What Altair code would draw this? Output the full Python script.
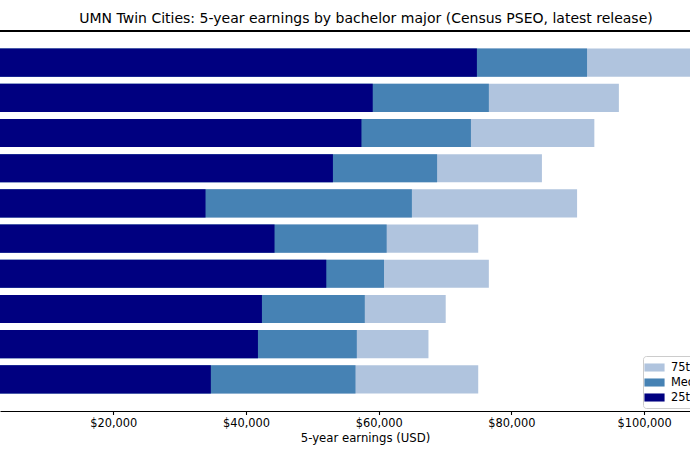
import altair as alt
import pandas as pd

# Majors (y-axis labels are cropped out of the reference view)
majors = ["Major 1", "Major 2", "Major 3", "Major 4", "Major 5",
          "Major 6", "Major 7", "Major 8", "Major 9", "Major 10"]
p25 = [74800, 59100, 57400, 53100, 33900, 44300, 52100, 42400, 41800, 34700]
median = [91400, 76600, 73900, 68800, 65000, 61200, 60800, 57900, 56700, 56500]
p75 = [112000, 96200, 92500, 84600, 89900, 75000, 76600, 70100, 67500, 75000]

series = ["75th percentile", "Median", "25th percentile"]
colors = ["#B0C4DE", "#4682B4", "#000080"]
tick_vals = [20000, 40000, 60000, 80000, 100000]
x_domain = [2924, 106918]

rows = []
for name, vals in zip(series, [p75, median, p25]):
    for i, (m, v) in enumerate(zip(majors, vals)):
        rows.append({"major": m, "stat": name, "value": v, "order": len(rows)})
df = pd.DataFrame(rows)

legend_path = "M-1.55,-0.62L1.55,-0.62L1.55,0.62L-1.55,0.62Z"

bars = alt.Chart(df).mark_bar(clip=True, stroke=None).encode(
    y=alt.Y("major:N", sort=majors, axis=None,
            scale=alt.Scale(paddingInner=0.2, paddingOuter=0.5)),
    x=alt.X("value:Q",
            scale=alt.Scale(domain=x_domain, nice=False, zero=False),
            axis=alt.Axis(values=tick_vals, format="$,.0f", grid=False,
                          title="5-year earnings (USD)",
                          domainColor="black", domainWidth=1.1,
                          tickColor="black", tickSize=3.5, tickWidth=1.1,
                          labelFont="DejaVu Sans", labelFontSize=11.4,
                          labelColor="black", labelPadding=3,
                          titleFont="DejaVu Sans", titleFontSize=11.7,
                          titleFontWeight="normal", titleColor="black",
                          titlePadding=4, titleX=365, titleAnchor="start",
                          titleAlign="center", labelFlush=False)),
    x2=alt.datum(0),
    color=alt.Color("stat:N",
                    scale=alt.Scale(domain=series, range=colors),
                    legend=alt.Legend(title=None, orient="none",
                                      legendX=643, legendY=325,
                                      symbolType=legend_path, symbolSize=169,
                                      symbolStrokeWidth=0, symbolOpacity=1,
                                      labelFont="DejaVu Sans", labelFontSize=11.4,
                                      labelColor="black", labelOffset=10,
                                      rowPadding=3, padding=5,
                                      strokeColor="#cccccc", fillColor="white",
                                      cornerRadius=3)),
    order=alt.Order("order:Q"),
)

top_line = alt.Chart(df).mark_rule(color="black", strokeWidth=1.1).encode(
    x=alt.value(0), x2=alt.value(690), y=alt.value(0)
)

chart = alt.layer(bars, top_line).properties(
    width=690, height=380,
    title=alt.TitleParams(
        "UMN Twin Cities: 5-year earnings by bachelor major (Census PSEO, latest release)",
        font="DejaVu Sans", fontSize=14, fontWeight="normal", color="black",
        anchor="middle", dx=21, dy=15, offset=8, baseline="alphabetic"),
    padding={"left": 0, "right": 0, "top": 31, "bottom": 49},
    autosize=alt.AutoSizeParams(type="none"),
).configure_view(stroke=None)

chart.save("out.html", embed_options={"renderer": "svg", "actions": False})
